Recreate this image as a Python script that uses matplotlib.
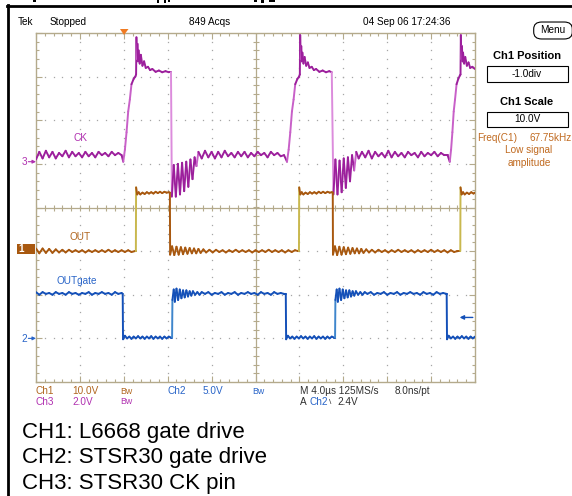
import numpy as np
import matplotlib
matplotlib.use("Agg")
import matplotlib.pyplot as plt
from matplotlib.collections import LineCollection
from matplotlib.patches import Rectangle, FancyBboxPatch, Polygon
from matplotlib.lines import Line2D

# ---------------- data (time in us, voltages in V) ----------------
# CH3 : CK pin (2 V/div)
ck_t_base1 = [0.0,0.3,0.6,0.9,1.2,1.5,1.8,2.1,2.4,2.7,3.0,3.3,3.6,3.9,4.2,4.5,4.8,5.1,5.4,5.7,6.0,6.3,6.6,6.9,7.2,7.5,7.8]
ck_v_base1 = [0.1,0.45,0.15,0.5,0.2,0.45,0.15,0.4,0.25,0.5,0.2,0.45,0.25,0.4,0.2,0.45,0.25,0.4,0.2,0.45,0.3,0.4,0.25,0.45,0.3,0.4,0.3]
ck_t_rise1 = [7.95,8.1,8.25,8.4,8.55,8.7,8.9,9.05,9.12,9.15,9.2,9.25,9.3,9.35,9.45,9.55,9.7,9.85,10.0,10.2,10.4,10.6,10.9,11.2,11.5,11.8,12.1,12.3]
ck_v_rise1 = [0.0,0.55,1.35,2.3,2.85,3.55,3.8,3.9,4.0,5.7,4.7,5.4,4.6,5.1,4.5,4.9,4.4,4.6,4.3,4.35,4.2,4.25,4.12,4.18,4.1,4.15,4.1,4.1]
ck_t_ring1 = [12.38,12.55,12.74,12.93,13.12,13.31,13.5,13.69,13.88,14.07,14.26,14.45,14.62,14.8]
ck_v_ring1 = [-1.6,-0.15,-1.6,-0.1,-1.5,-0.05,-1.35,0.0,-1.15,0.1,-0.8,0.2,-0.2,0.45]
ck_t_base2 = [15.1,15.4,15.7,16.0,16.3,16.6,16.9,17.2,17.5,17.8,18.1,18.4,18.7,19.0,19.3,19.6,19.9,20.2,20.5,20.8,21.1,21.4,21.7,22.0,22.3,22.6]
ck_v_base2 = [0.15,0.5,0.2,0.45,0.15,0.45,0.2,0.5,0.25,0.4,0.2,0.45,0.25,0.45,0.2,0.4,0.25,0.45,0.3,0.4,0.2,0.45,0.3,0.4,0.25,0.3]
ck_t_rise2 = [22.87,23.02,23.17,23.32,23.47,23.62,23.82,23.97,24.04,24.07,24.12,24.17,24.22,24.27,24.37,24.47,24.62,24.77,24.92,25.12,25.32,25.52,25.82,26.12,26.42,26.72,26.95]
ck_v_rise2 = [0.0,0.55,1.35,2.3,2.85,3.55,3.8,3.9,4.0,5.8,4.7,5.3,4.6,5.0,4.5,4.8,4.4,4.55,4.3,4.35,4.2,4.25,4.12,4.18,4.1,4.15,4.1]
ck_t_ring2 = [27.1,27.28,27.47,27.66,27.85,28.04,28.23,28.42,28.61,28.8,28.99,29.18]
ck_v_ring2 = [-1.5,0.1,-1.5,0.05,-1.4,0.15,-1.2,0.2,-0.9,0.3,-0.4,0.45]
ck_t_base3 = [29.4,29.7,30.0,30.3,30.6,30.9,31.2,31.5,31.8,32.1,32.4,32.7,33.0,33.3,33.6,33.9,34.2,34.5,34.8,35.1,35.4,35.7,36.0,36.3,36.6,36.9,37.2,37.5]
ck_v_base3 = [0.15,0.45,0.2,0.5,0.15,0.45,0.25,0.4,0.2,0.5,0.2,0.45,0.25,0.4,0.2,0.45,0.3,0.4,0.2,0.45,0.25,0.4,0.3,0.45,0.25,0.4,0.3,0.3]
ck_t_rise3 = [37.7,37.82,37.94,38.06,38.18,38.32,38.48,38.62,38.68,38.71,38.76,38.81,38.86,38.91,39.01,39.11,39.26,39.41,39.56,39.76,40.0]
ck_v_rise3 = [0.0,0.55,1.35,2.3,2.85,3.55,3.8,3.95,4.0,5.8,4.7,5.3,4.6,5.0,4.5,4.8,4.4,4.55,4.3,4.35,4.25]

# CH1 : OUT (10 V/div)
out_t_base1 = [0.0,0.3,0.6,0.9,1.2,1.5,1.8,2.1,2.4,2.7,3.0,3.3,3.6,3.9,4.2,4.5,4.8,5.1,5.4,5.7,6.0,6.3,6.6,6.9,7.2,7.5,7.8,8.1,8.4,8.7,9.0]
out_v_base1 = [0.6,-0.5,0.6,-0.4,0.5,-0.4,0.4,-0.3,0.3,-0.3,0.3,-0.2,0.2,-0.2,0.2,-0.3,0.2,-0.2,0.2,-0.2,0.2,-0.2,0.3,-0.2,0.2,-0.2,0.2,-0.2,0.2,-0.2,0.0]
out_t_high1 = [9.1,9.12,9.22,9.35,9.5,9.7,9.9,10.1,10.3,10.5,10.7,10.9,11.1,11.3,11.5,11.7,11.9,12.1,12.2]
out_v_high1 = [0.0,14.6,13.0,13.5,13.0,13.4,13.1,13.5,13.2,13.5,13.2,13.6,13.3,13.6,13.3,13.6,13.4,13.5,13.4]
out_t_ring1 = [12.22,12.4,12.6,12.8,13.0,13.2,13.4,13.6,13.8,14.0,14.2,14.4,14.6,14.8,15.0,15.25,15.5]
out_v_ring1 = [-0.8,1.1,-0.9,1.0,-0.8,0.9,-0.7,0.8,-0.6,0.7,-0.5,0.6,-0.5,0.5,-0.4,0.4,-0.3]
out_t_base2 = [15.8,16.1,16.4,16.7,17.0,17.3,17.6,17.9,18.2,18.5,18.8,19.1,19.4,19.7,20.0,20.3,20.6,20.9,21.2,21.5,21.8,22.1,22.4,22.7,23.0,23.3,23.6,23.9]
out_v_base2 = [0.3,-0.3,0.3,-0.2,0.2,-0.3,0.2,-0.2,0.3,-0.2,0.2,-0.2,0.2,-0.3,0.2,-0.2,0.2,-0.2,0.3,-0.2,0.2,-0.2,0.2,-0.3,0.2,-0.2,0.2,0.0]
out_t_high2 = [23.96,23.98,24.08,24.21,24.36,24.56,24.76,24.96,25.16,25.36,25.56,25.76,25.96,26.16,26.36,26.56,26.76,26.96,27.04]
out_v_high2 = [0.0,14.6,13.0,13.5,13.0,13.4,13.1,13.5,13.2,13.5,13.2,13.6,13.3,13.6,13.3,13.6,13.4,13.5,13.4]
out_t_ring2 = [27.06,27.24,27.44,27.64,27.84,28.04,28.24,28.44,28.64,28.84,29.04,29.24,29.44,29.64,29.84,30.09,30.34]
out_v_ring2 = [-0.8,1.1,-0.9,1.0,-0.8,0.9,-0.7,0.8,-0.6,0.7,-0.5,0.6,-0.5,0.5,-0.4,0.4,-0.3]
out_t_base3 = [30.6,30.9,31.2,31.5,31.8,32.1,32.4,32.7,33.0,33.3,33.6,33.9,34.2,34.5,34.8,35.1,35.4,35.7,36.0,36.3,36.6,36.9,37.2,37.5,37.8,38.1,38.4]
out_v_base3 = [0.3,-0.3,0.3,-0.2,0.2,-0.3,0.2,-0.2,0.3,-0.2,0.2,-0.2,0.2,-0.3,0.2,-0.2,0.2,-0.2,0.3,-0.2,0.2,-0.2,0.2,-0.3,0.2,-0.2,0.0]
out_t_high3 = [38.66,38.68,38.78,38.91,39.06,39.26,39.46,39.66,39.86,40.0]
out_v_high3 = [0.0,14.6,13.0,13.5,13.0,13.4,13.1,13.5,13.2,13.4]

# CH2 : OUTgate (5 V/div)
gate_t_high1 = [0.0,0.3,0.6,0.9,1.2,1.5,1.8,2.1,2.4,2.7,3.0,3.3,3.6,3.9,4.2,4.5,4.8,5.1,5.4,5.7,6.0,6.3,6.6,6.9,7.2,7.5,7.8]
gate_v_high1 = [5.3,5.0,5.3,5.1,5.2,5.0,5.3,5.1,5.2,5.0,5.3,5.1,5.2,5.0,5.2,5.1,5.3,5.0,5.2,5.1,5.3,5.1,5.2,5.0,5.3,5.1,5.2]
gate_t_low1 = [7.9,7.93,8.1,8.3,8.5,8.7,8.9,9.1,9.3,9.5,9.7,9.9,10.1,10.3,10.5,10.7,10.9,11.1,11.3,11.5,11.7,11.9,12.1,12.3]
gate_v_low1 = [5.1,-0.1,0.3,0.0,0.2,-0.05,0.2,0.0,0.25,0.0,0.2,-0.05,0.2,0.0,0.25,-0.05,0.2,0.0,0.2,-0.05,0.2,0.0,0.2,0.1]
gate_t_ring1 = [12.4,12.43,12.55,12.65,12.8,12.95,13.1,13.25,13.4,13.55,13.7,13.85,14.0,14.15,14.3,14.5,14.7,14.9,15.1]
gate_v_ring1 = [0.1,4.4,5.6,4.2,5.7,4.4,5.6,4.6,5.5,4.7,5.5,4.8,5.4,4.9,5.4,5.0,5.3,5.0,5.3]
gate_t_high2 = [15.4,15.7,16.0,16.3,16.6,16.9,17.2,17.5,17.8,18.1,18.4,18.7,19.0,19.3,19.6,19.9,20.2,20.5,20.8,21.1,21.4,21.7,22.0,22.3,22.6]
gate_v_high2 = [5.1,5.3,5.0,5.2,5.1,5.3,5.0,5.2,5.1,5.3,5.0,5.2,5.1,5.3,5.1,5.2,5.0,5.3,5.1,5.2,5.0,5.3,5.1,5.2,5.1]
gate_t_low2 = [22.76,22.79,22.95,23.15,23.35,23.55,23.75,23.95,24.15,24.35,24.55,24.75,24.95,25.15,25.35,25.55,25.75,25.95,26.15,26.35,26.55,26.75,26.95,27.15]
gate_v_low2 = [5.1,-0.1,0.3,0.0,0.2,-0.05,0.2,0.0,0.25,0.0,0.2,-0.05,0.2,0.0,0.25,-0.05,0.2,0.0,0.2,-0.05,0.2,0.0,0.2,0.1]
gate_t_ring2 = [27.25,27.28,27.4,27.5,27.65,27.8,27.95,28.1,28.25,28.4,28.55,28.7,28.85,29.0,29.15,29.35,29.55,29.75,29.95]
gate_v_ring2 = [0.1,4.4,5.6,4.2,5.7,4.4,5.6,4.6,5.5,4.7,5.5,4.8,5.4,4.9,5.4,5.0,5.3,5.0,5.3]
gate_t_high3 = [30.2,30.5,30.8,31.1,31.4,31.7,32.0,32.3,32.6,32.9,33.2,33.5,33.8,34.1,34.4,34.7,35.0,35.3,35.6,35.9,36.2,36.5,36.8,37.1,37.4]
gate_v_high3 = [5.1,5.3,5.0,5.2,5.1,5.3,5.0,5.2,5.1,5.3,5.0,5.2,5.1,5.3,5.1,5.2,5.0,5.3,5.1,5.2,5.0,5.3,5.1,5.2,5.1]
gate_t_low3 = [37.42,37.45,37.6,37.8,38.0,38.2,38.4,38.6,38.8,39.0,39.2,39.4,39.6,39.8,40.0]
gate_v_low3 = [5.1,-0.1,0.3,0.0,0.2,-0.05,0.2,0.0,0.25,0.0,0.2,-0.05,0.2,0.0,0.2]

# channel settings
ch_scale = {"CH1": 10.0, "CH2": 5.0, "CH3": 2.0}       # V/div
ch_pos = {"CH1": -1.0, "CH2": -3.0, "CH3": 1.05}       # div
trig_level = 2.4   # V on CH2

# ---------------- figure ----------------
W, H = 572, 496
fig = plt.figure(figsize=(W / 100, H / 100), dpi=100)
fig.patch.set_facecolor("white")

L, R, T, B = 36, 475, 33, 382
ax = fig.add_axes([L / W, 1 - B / H, (R - L) / W, (B - T) / H])
ax.set_xlim(0, 40)
ax.set_ylim(-4, 4)
ax.set_facecolor("white")

GRAT = "#b4aa8c"
DOT = "#a6a6a6"
for s in ax.spines.values():
    s.set_color(GRAT)
    s.set_linewidth(1.0)
ax.set_xticks(np.arange(0, 40.01, 4))
ax.set_yticks(np.arange(-4, 4.01, 1))
ax.set_xticks(np.arange(0, 40.01, 0.8), minor=True)
ax.set_yticks(np.arange(-4, 4.01, 0.2), minor=True)
ax.tick_params(which="both", direction="in", top=True, right=True, bottom=True, left=True,
               labelbottom=False, labelleft=False, color=GRAT, width=0.8)
ax.tick_params(which="major", length=4.5)
ax.tick_params(which="minor", length=2.3)

# dotted graticule
for xv in np.arange(4, 40, 4):
    if abs(xv - 20) < 1e-6:
        continue
    yy = np.arange(-4, 4.01, 0.2)
    ax.plot(np.full_like(yy, xv), yy, ls="none", marker="s", ms=0.9, mfc=DOT, mec="none", zorder=1)
for yv in range(-3, 4):
    if yv == 0:
        continue
    xx = np.arange(0, 40.01, 0.8)
    ax.plot(xx, np.full_like(xx, yv), ls="none", marker="s", ms=0.9, mfc=DOT, mec="none", zorder=1)

# center crosshair with ticks
ax.axhline(0, color=GRAT, lw=0.9, zorder=1)
ax.axvline(20, color=GRAT, lw=0.9, zorder=1)
xx = np.arange(0, 40.01, 0.8)
ax.plot(xx, np.zeros_like(xx), ls="none", marker="|", ms=5, mew=0.8, color=GRAT, zorder=1)
yy = np.arange(-4, 4.01, 0.2)
ax.plot(np.full_like(yy, 20), yy, ls="none", marker="_", ms=5, mew=0.8, color=GRAT, zorder=1)


def trace(tlist, vlist, ch, color, up_color=None, up_band=(0.9, 99), down_color=None, down_thresh=0.9):
    n = min(len(tlist), len(vlist))
    t = np.asarray(tlist[:n], float)
    y = ch_pos[ch] + np.asarray(vlist[:n], float) / ch_scale[ch]
    pts = np.column_stack([t, y])
    segs = np.stack([pts[:-1], pts[1:]], axis=1)
    dy = np.diff(y)
    cols = []
    for d in dy:
        if up_color and up_band[0] < d < up_band[1]:
            cols.append(up_color)
        elif down_color and d < -down_thresh:
            cols.append(down_color)
        else:
            cols.append(color)
    lc = LineCollection(segs, colors=cols, linewidths=1.4, zorder=3, capstyle="round", joinstyle="round")
    ax.add_collection(lc)


CK_C, OUT_C, GATE_C = "#9c1f9c", "#a8580f", "#1450b8"
trace(ck_t_base1 + ck_t_rise1 + ck_t_ring1 + ck_t_base2 + ck_t_rise2 + ck_t_ring2 + ck_t_base3 + ck_t_rise3,
      ck_v_base1 + ck_v_rise1 + ck_v_ring1 + ck_v_base2 + ck_v_rise2 + ck_v_ring2 + ck_v_base3 + ck_v_rise3,
      "CH3", CK_C, up_color="#c860c8", up_band=(0.25, 0.5), down_color="#dc8cdc", down_thresh=1.5)
trace(out_t_base1 + out_t_high1 + out_t_ring1 + out_t_base2 + out_t_high2 + out_t_ring2 + out_t_base3 + out_t_high3,
      out_v_base1 + out_v_high1 + out_v_ring1 + out_v_base2 + out_v_high2 + out_v_ring2 + out_v_base3 + out_v_high3,
      "CH1", OUT_C, up_color="#c9b84e", up_band=(0.9, 99))
trace(gate_t_high1 + gate_t_low1 + gate_t_ring1 + gate_t_high2 + gate_t_low2 + gate_t_ring2 + gate_t_high3 + gate_t_low3,
      gate_v_high1 + gate_v_low1 + gate_v_ring1 + gate_v_high2 + gate_v_low2 + gate_v_ring2 + gate_v_high3 + gate_v_low3,
      "CH2", GATE_C, up_color="#3f86cc", up_band=(0.5, 99))

# trigger level arrow (right side)
ty = ch_pos["CH2"] + trig_level / ch_scale["CH2"]
ax.annotate("", xy=(38.6, ty), xytext=(39.8, ty),
            arrowprops=dict(arrowstyle="-|>", color=GATE_C, lw=1.0, mutation_scale=6,
                            shrinkA=0, shrinkB=0),
            annotation_clip=False)

# ground markers on the left
def gnd_arrow(ch, color, dy=0.0):
    ax.annotate("", xy=(0, ch_pos[ch] + dy), xytext=(-5.5, 0), textcoords="offset points",
                arrowprops=dict(arrowstyle="-|>", color=color, lw=0.8, mutation_scale=5,
                                shrinkA=0, shrinkB=0),
                annotation_clip=False)

SMALL = ["Liberation Sans Narrow", "Liberation Sans", "DejaVu Sans"]


def T_(x, y, s, size=7.2, color="black", ha="left", va="center", weight="normal", family=None):
    fig.text(x / W, 1 - y / H, s, fontsize=size, color=color, ha=ha, va=va,
             fontweight=weight, family=family or SMALL)


CK_TXT, CH1_TXT, CH2_TXT = "#b030b0", "#b0651e", "#2864c8"

T_(24, 162, "3", color=CK_TXT, ha="center")
gnd_arrow("CH3", CK_TXT)
fig.add_artist(Rectangle((17 / W, 1 - 254 / H), 18 / W, 10 / H, transform=fig.transFigure,
                         fc="#a8580f", ec="none"))
T_(21, 249, "1", color="white", ha="center", weight="bold")
gnd_arrow("CH1", "white", dy=0.05)
T_(24, 339, "2", color=CH2_TXT, ha="center")
gnd_arrow("CH2", CH2_TXT)

# trigger position marker
fig.add_artist(Polygon([(120 / W, 1 - 29 / H), (128.5 / W, 1 - 29 / H), (124 / W, 1 - 35 / H)],
                       closed=True, transform=fig.transFigure, fc="#f07b22", ec="none"))

# trace labels
T_(80, 138, "CK", color=CK_TXT, ha="center")
T_(80, 237, "OUT", color=CH1_TXT, ha="center")
T_(77, 281, "OUTgate", color=CH2_TXT, ha="center")

# top status line
T_(25, 22, "Tek", ha="center")
T_(50, 22, "Stopped")
T_(210, 22, "849 Acqs", ha="center")
T_(407, 22, "04 Sep 06 17:24:36", ha="center")

# right panel
fig.add_artist(FancyBboxPatch((536 / W, 1 - 37 / H), 34 / W, 13 / H,
                              boxstyle="round,pad=0.004,rounding_size=0.014",
                              transform=fig.transFigure, fc="white", ec="black", lw=0.8))
T_(553, 30, "Menu", ha="center")
T_(527, 56, "Ch1 Position", ha="center", size=8, weight="bold", family=["Liberation Sans", "DejaVu Sans"])
fig.add_artist(Rectangle((487 / W, 1 - 82 / H), 81 / W, 16 / H, transform=fig.transFigure,
                         fill=False, ec="black", lw=0.8))
T_(527, 74, "-1.0div", ha="center")
T_(527, 102, "Ch1 Scale", ha="center", size=8, weight="bold", family=["Liberation Sans", "DejaVu Sans"])
fig.add_artist(Rectangle((487 / W, 1 - 127 / H), 81 / W, 15 / H, transform=fig.transFigure,
                         fill=False, ec="black", lw=0.8))
T_(527, 119.5, "10.0V", ha="center")
FREQ_C = "#c06a20"
T_(477, 138, "Freq(C1)", color=FREQ_C)
T_(571.5, 138, "67.75kHz", color=FREQ_C, ha="right")
T_(529, 150, "Low signal", color=FREQ_C, ha="center")
T_(529, 163, "amplitude", color=FREQ_C, ha="center")

# bottom status lines
T_(36, 391, "Ch1", color=CH1_TXT)
T_(72, 391, "10.0V", color=CH1_TXT)
T_(120, 391, "Bw", color=CH1_TXT, size=6.3)
T_(167, 391, "Ch2", color=CH2_TXT)
T_(203, 391, "5.0V", color=CH2_TXT)
T_(252, 391, "Bw", color=CH2_TXT, size=6.3)
T_(300, 391, "M 4.0\u00b5s 125MS/s", color="#303030")
T_(395, 391, "8.0ns/pt", color="#303030")
T_(36, 402, "Ch3", color=CK_TXT)
T_(72, 402, "2.0V", color=CK_TXT)
T_(120, 402, "Bw", color=CK_TXT, size=6.3)
T_(300, 402, "A", color="#303030")
T_(309, 402, "Ch2", color=CH2_TXT)
T_(329, 402, "\\", color="#303030", size=6)
T_(337, 402, "2.4V", color="#303030")

# captions
CAP = ["Liberation Sans", "DejaVu Sans"]
T_(22, 438, "CH1: L6668 gate drive", size=16, va="baseline", family=CAP)
T_(22, 463, "CH2: STSR30 gate drive", size=16, va="baseline", family=CAP)
T_(22, 489, "CH3: STSR30 CK pin", size=16, va="baseline", family=CAP)

# cropped page frame and remnants of the cut-off title above it
fig.add_artist(Line2D([7.5 / W, 7.5 / W], [1 - 5 / H, 0], color="black", lw=2.0, transform=fig.transFigure))
fig.add_artist(Line2D([6.5 / W, 1], [1 - 6 / H, 1 - 6 / H], color="black", lw=2.0, transform=fig.transFigure))
for (x0, x1, y1) in [(33, 36, 2), (157, 159, 3), (164, 166, 3), (168, 170, 2), (254, 257, 2),
                     (261, 264, 3), (269, 275, 2)]:
    fig.add_artist(Rectangle((x0 / W, 1 - y1 / H), (x1 - x0) / W, y1 / H, transform=fig.transFigure,
                             fc="black", ec="none"))

fig.savefig("out.png", dpi=100)
